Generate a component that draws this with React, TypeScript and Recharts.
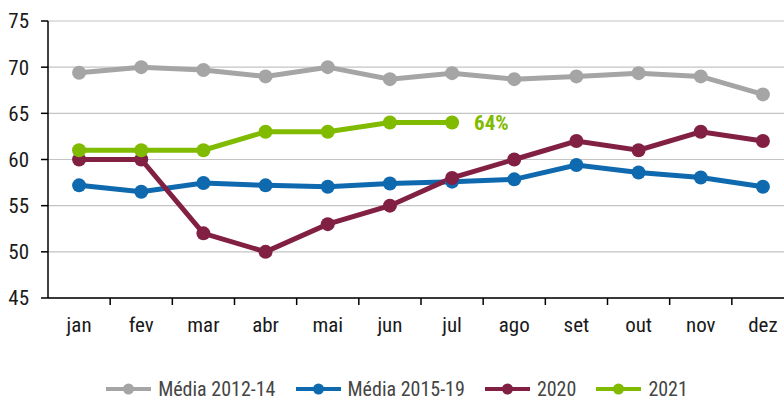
import React from "react";
import { LineChart, Line, XAxis, YAxis, CartesianGrid, Legend, LabelList } from "recharts";

const months = ["jan", "fev", "mar", "abr", "mai", "jun", "jul", "ago", "set", "out", "nov", "dez"];
const media1214 = [69.4, 70.0, 69.7, 69.0, 70.0, 68.7, 69.35, 68.7, 69.0, 69.35, 69.0, 67.05];
const media1519 = [57.2, 56.5, 57.45, 57.2, 57.05, 57.4, 57.6, 57.85, 59.4, 58.6, 58.05, 57.05];
const ano2020 = [60, 60, 52, 50, 53, 55, 58, 60, 62, 61, 63, 62];
const ano2021 = [61, 61, 61, 63, 63, 64, 64];
const yTicks = [45, 50, 55, 60, 65, 70, 75];

const series = [
  { key: "m1214", name: "Média 2012-14", color: "#a5a5a5" },
  { key: "m1519", name: "Média 2015-19", color: "#0e69ae" },
  { key: "a2020", name: "2020", color: "#812042" },
  { key: "a2021", name: "2021", color: "#80bb00" },
];

const data = months.map((m, i) => ({
  x: i + 0.5,
  m1214: media1214[i],
  m1519: media1519[i],
  a2020: ano2020[i],
  a2021: i < ano2021.length ? ano2021[i] : null,
}));

const FONT = "'Liberation Sans Narrow', 'Roboto Condensed', 'Open Sans', sans-serif";
const FS = 21;
const CHART_W = 800;
const CHART_H = 401;
const MARGIN = { top: 21, right: 6, left: 0, bottom: 0 };
const Y_W = 48;
const BAND = (CHART_W - MARGIN.left - MARGIN.right - Y_W) / months.length;

function MonthTick(props: any) {
  const { x, y, payload } = props;
  const idx = Math.round(payload.value - 0.5);
  const bx = x - BAND / 2;
  return (
    <g>
      {idx > 0 && <line x1={bx} x2={bx} y1={y - 7} y2={y} stroke="#000" strokeWidth={1.5} />}
      <text x={x} y={y + 27} textAnchor="middle" fill="#1a1a1a" fontSize={FS} fontFamily={FONT}>
        {months[idx]}
      </text>
    </g>
  );
}

function LastLabel(props: any) {
  const { x, y, index } = props;
  if (index !== ano2021.length - 1) return null;
  return (
    <text x={x + 22} y={y} dy="0.36em" fill="#80bb00" fontSize={FS} fontWeight="bold" fontFamily={FONT}>
      64%
    </text>
  );
}

function LegendContent() {
  return (
    <div
      style={{
        display: "flex",
        justifyContent: "center",
        alignItems: "center",
        gap: 20,
        fontFamily: FONT,
        fontSize: 20,
        lineHeight: "24px",
        color: "#454545",
      }}
    >
      {series.map((s) => (
        <div key={s.key} style={{ display: "flex", alignItems: "center", gap: 7 }}>
          <svg width={45} height={12}>
            <line x1={0} x2={45} y1={6} y2={6} stroke={s.color} strokeWidth={4} />
            <circle cx={22.5} cy={6} r={5.5} fill={s.color} />
          </svg>
          <span>{s.name}</span>
        </div>
      ))}
    </div>
  );
}

export default function App() {
  return (
    <div style={{ position: "absolute", top: 0, left: 0, width: 784, height: CHART_H, overflow: "hidden", background: "#fff" }}>
      <LineChart width={CHART_W} height={CHART_H} data={data} margin={MARGIN}>
        <CartesianGrid vertical={false} stroke="#c4c4c4" strokeWidth={1.2} />
        <XAxis
          dataKey="x"
          type="number"
          domain={[0, 12]}
          ticks={data.map((d) => d.x)}
          tick={<MonthTick />}
          tickLine={false}
          tickSize={7}
          tickMargin={0}
          height={79}
          axisLine={{ stroke: "#000", strokeWidth: 1.5 }}
          interval={0}
        />
        <YAxis
          domain={[45, 75]}
          ticks={yTicks}
          width={Y_W}
          tickSize={7}
          tickMargin={12}
          tick={{ fill: "#1a1a1a", fontSize: FS, fontFamily: FONT }}
          tickLine={{ stroke: "#000", strokeWidth: 1.5 }}
          axisLine={{ stroke: "#000", strokeWidth: 1.5 }}
        />
        <Legend verticalAlign="bottom" height={24} content={<LegendContent />} />
        {series.map((s) => (
          <Line
            key={s.key}
            dataKey={s.key}
            name={s.name}
            stroke={s.color}
            strokeWidth={5}
            dot={{ r: 7, fill: s.color, stroke: s.color, strokeWidth: 0 }}
            activeDot={false}
            isAnimationActive={false}
            connectNulls={false}
          >
            {s.key === "a2021" && <LabelList dataKey="a2021" content={<LastLabel />} />}
          </Line>
        ))}
      </LineChart>
    </div>
  );
}
